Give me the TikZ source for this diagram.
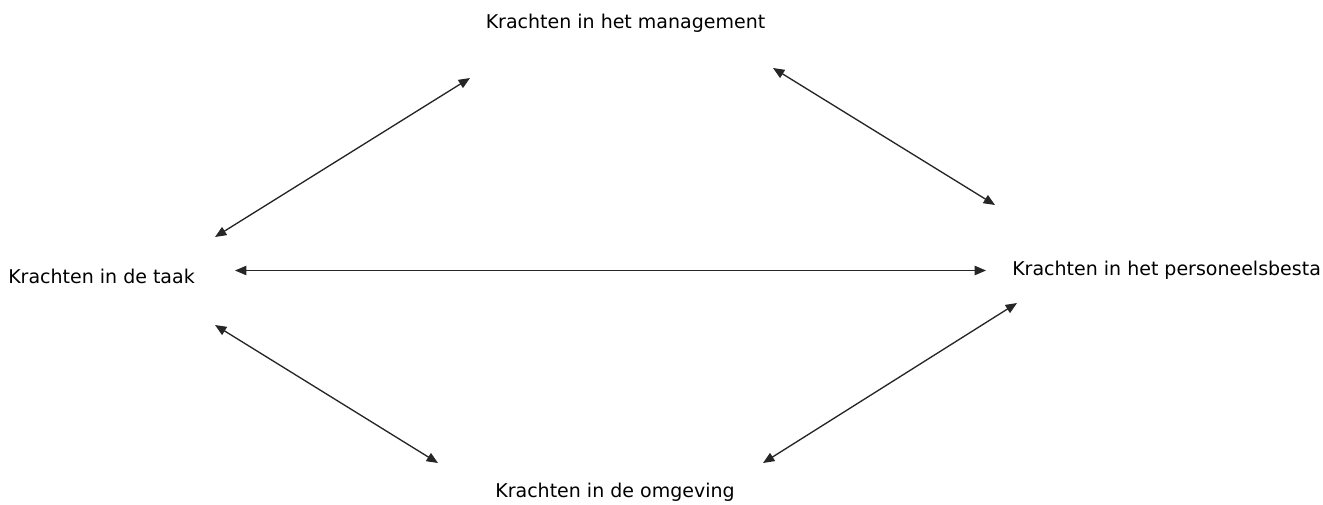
\documentclass[tikz,border=0pt]{standalone}
\usepackage{fontspec}
\setmainfont{DejaVu Sans}
\usetikzlibrary{arrows.meta}
\begin{document}
\begin{tikzpicture}[x=0.75pt,y=0.75pt,yscale=-1,xscale=1,
  kracht/.style={inner sep=0pt,font=\fontsize{14.25}{17}\selectfont},
  pijl/.style={{Triangle[length=8.5pt,width=7pt]}-{Triangle[length=8.5pt,width=7pt]},line width=1pt,color=black!85}]
\useasboundingbox (0,0) rectangle (1323,504);
% labels
\node [kracht,anchor=base] (management) at (625.5,28) {Krachten in het management};
\node [kracht,anchor=base west] (taak) at (8,283) {Krachten in de taak};
\node [kracht,anchor=base west] (personeel) at (1012,275) {Krachten in het personeelsbesta};
\node [kracht,anchor=base] (omgeving) at (615,497) {Krachten in de omgeving};
% arrow ends
\coordinate (mL) at (470,78);
\coordinate (mR) at (773,68);
\coordinate (tU) at (215,237);
\coordinate (tM) at (235,270.5);
\coordinate (tD) at (215,325);
\coordinate (pU) at (995,205);
\coordinate (pM) at (986,270.5);
\coordinate (pD) at (1017,303);
\coordinate (oL) at (438,463);
\coordinate (oR) at (763,463);
\draw [pijl] (tU) -- (mL) ;
\draw [pijl] (mR) -- (pU) ;
\draw [pijl] (tM) -- (pM) ;
\draw [pijl] (tD) -- (oL) ;
\draw [pijl] (pD) -- (oR) ;
\end{tikzpicture}
\end{document}
